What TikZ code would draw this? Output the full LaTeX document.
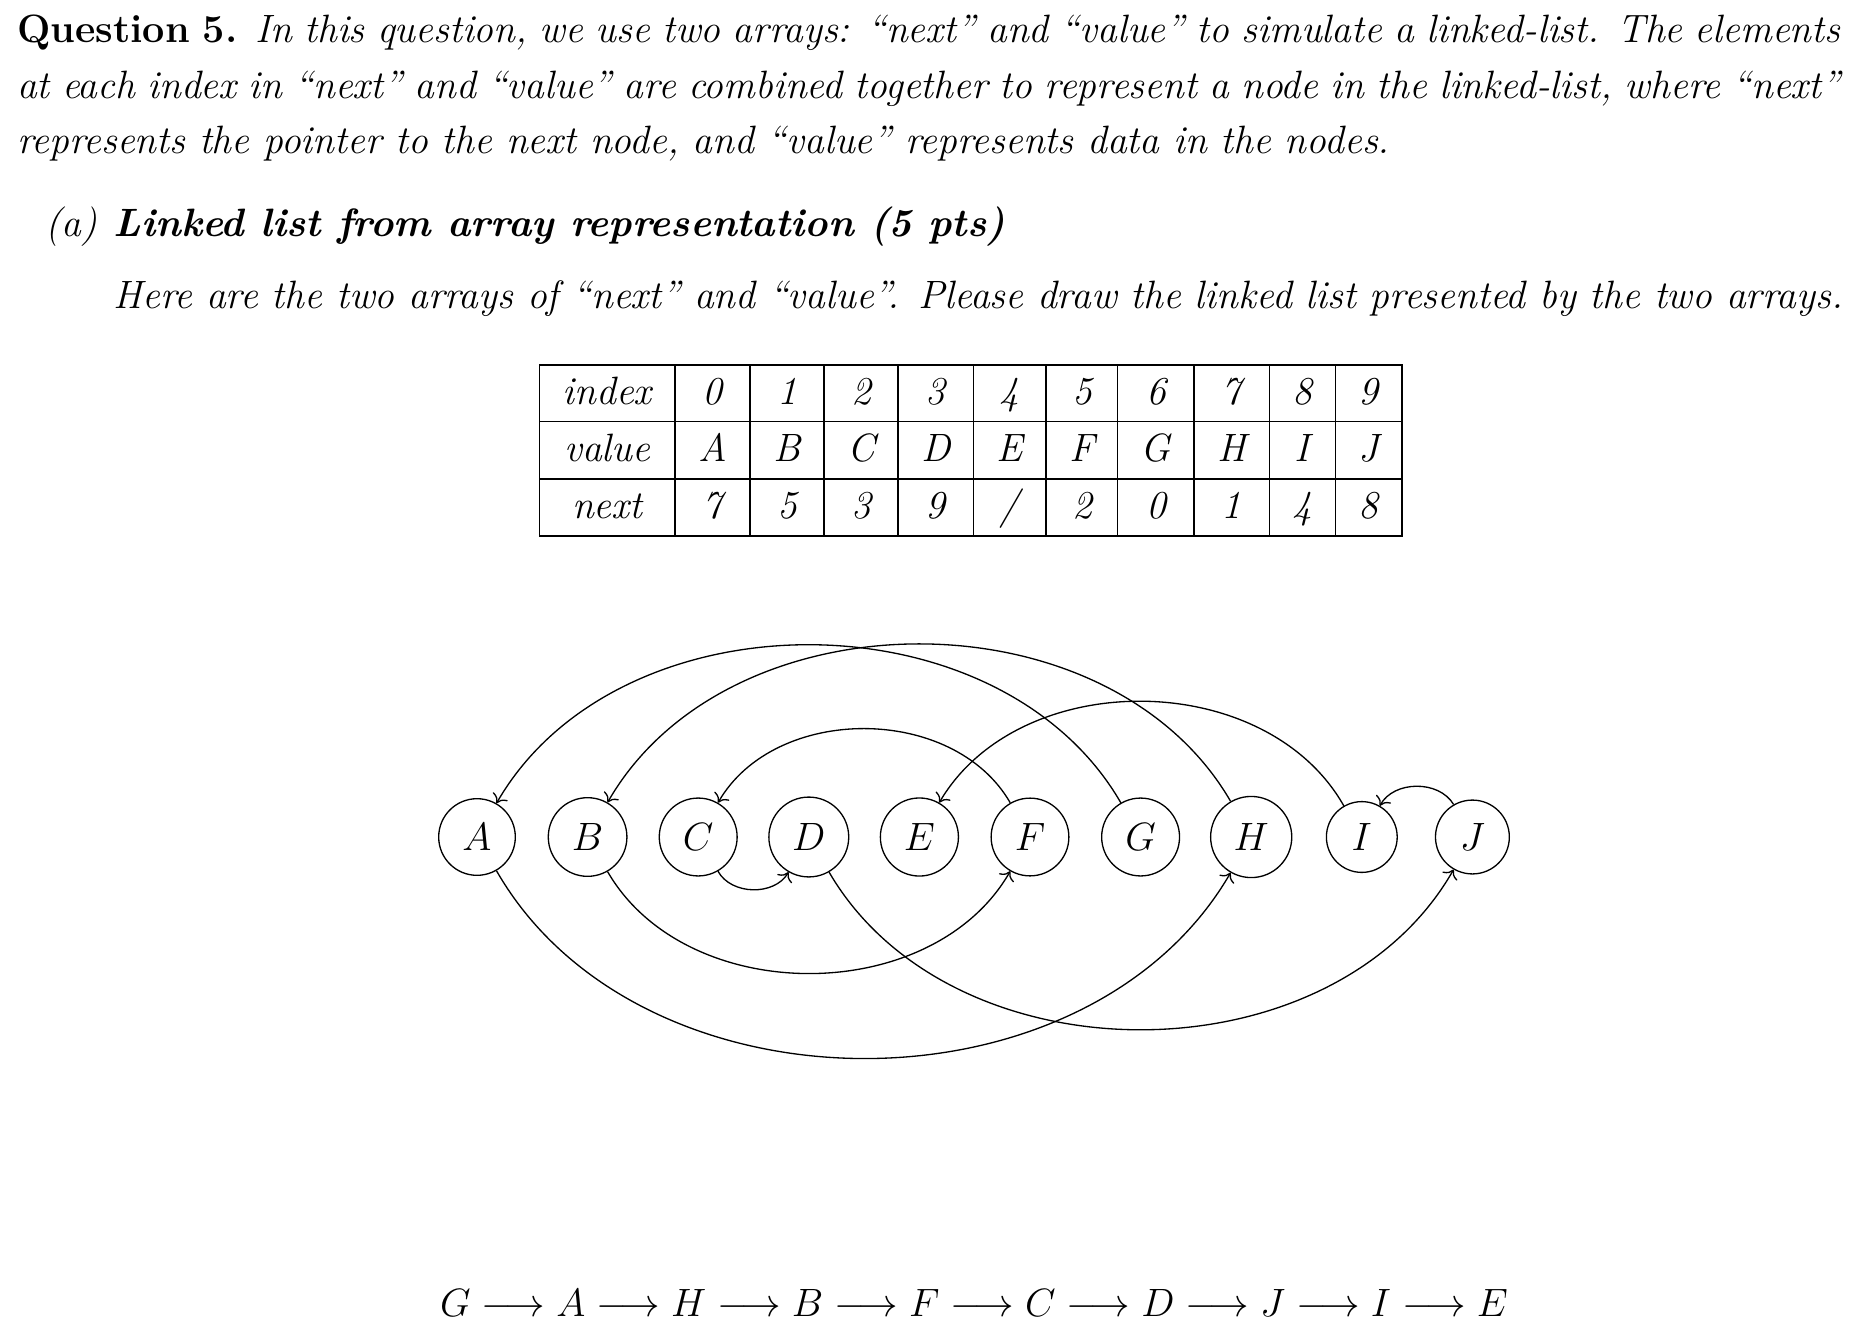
\documentclass[12pt,tikz,border=0pt]{standalone}
\usepackage{amsmath,amssymb}
\usepackage{tikz}
\usetikzlibrary{arrows.meta,positioning,calc}

\begin{document}
\begin{tikzpicture}[
    x=0.3035pt, y=-0.3035pt,
    txt/.style={inner sep=0pt, anchor=base west, font=\itshape},
    cell/.style={inner sep=0pt, anchor=base, font=\itshape},
    item/.style={draw, circle, thin},
    grid/.style={line width=0.4pt},
    arr/.style={->, bend right=60}
]
    \useasboundingbox (0,0) rectangle (1849,1333);

    % question text
    \node[txt] (L1) at (16.5,42.5)  {\makebox[553.3pt][s]{{\upshape\bfseries Question 5.} In this question, we use two arrays: ``next'' and ``value'' to simulate a linked-list. The elements}};
    \node[txt] (L2) at (16.5,98.2)  {\makebox[553.3pt][s]{at each index in ``next'' and ``value'' are combined together to represent a node in the linked-list, where ``next''}};
    \node[txt] (L3) at (16.5,153.9) {represents the pointer to the next node, and ``value'' represents data in the nodes.};
    \node[txt] (La) at (45,236.7)   {(a)};
    \node[txt] (Lh) at (113,236.7)  {\bfseries Linked list from array representation (5 pts)};
    \node[txt] (L4) at (113,308.3)  {Here are the two arrays of ``next'' and ``value''. Please draw the linked list presented by the two arrays.};

    % table
    \draw[grid] (539.3,365) rectangle (1402,536);
    \draw[grid] (539.3,421.7) -- (1402,421.7);
    \draw[grid] (539.3,479) -- (1402,479);
    \draw[grid] (675,365) -- (675,536);
    \draw[grid] (750,365) -- (750,536);
    \draw[grid] (824,365) -- (824,536);
    \draw[grid] (898,365) -- (898,536);
    \draw[grid] (973.3,365) -- (973.3,536);
    \draw[grid] (1046,365) -- (1046,536);
    \draw[grid] (1117.7,365) -- (1117.7,536);
    \draw[grid] (1194,365) -- (1194,536);
    \draw[grid] (1269.3,365) -- (1269.3,536);
    \draw[grid] (1335.3,365) -- (1335.3,536);

    \node[cell] (hidx) at (607.2,404.3) {index};
    \node[cell] (i0) at (712.5,404.3)  {0};
    \node[cell] (i1) at (787,404.3)    {1};
    \node[cell] (i2) at (861,404.3)    {2};
    \node[cell] (i3) at (935.7,404.3)  {3};
    \node[cell] (i4) at (1009.7,404.3) {4};
    \node[cell] (i5) at (1081.9,404.3) {5};
    \node[cell] (i6) at (1155.9,404.3) {6};
    \node[cell] (i7) at (1231.7,404.3) {7};
    \node[cell] (i8) at (1302.3,404.3) {8};
    \node[cell] (i9) at (1368.7,404.3) {9};

    \node[cell] (hval) at (607.2,461.7) {value};
    \node[cell] (v0) at (712.5,461.7)  {A};
    \node[cell] (v1) at (787,461.7)    {B};
    \node[cell] (v2) at (861,461.7)    {C};
    \node[cell] (v3) at (935.7,461.7)  {D};
    \node[cell] (v4) at (1009.7,461.7) {E};
    \node[cell] (v5) at (1081.9,461.7) {F};
    \node[cell] (v6) at (1155.9,461.7) {G};
    \node[cell] (v7) at (1231.7,461.7) {H};
    \node[cell] (v8) at (1302.3,461.7) {I};
    \node[cell] (v9) at (1368.7,461.7) {J};

    \node[cell] (hnxt) at (607.2,518.3) {next};
    \node[cell] (n0) at (712.5,518.3)  {7};
    \node[cell] (n1) at (787,518.3)    {5};
    \node[cell] (n2) at (861,518.3)    {3};
    \node[cell] (n3) at (935.7,518.3)  {9};
    \node[cell] (n4) at (1009.7,518.3) {/};
    \node[cell] (n5) at (1081.9,518.3) {2};
    \node[cell] (n6) at (1155.9,518.3) {0};
    \node[cell] (n7) at (1231.7,518.3) {1};
    \node[cell] (n8) at (1302.3,518.3) {4};
    \node[cell] (n9) at (1368.7,518.3) {8};

    % linked list nodes
    \node[item] (A) at (477,837)    {$A$};
    \node[item] (B) at (587.6,837)  {$B$};
    \node[item] (C) at (698.2,837)  {$C$};
    \node[item] (D) at (808.8,837)  {$D$};
    \node[item] (E) at (919.4,837)  {$E$};
    \node[item] (F) at (1030,837)   {$F$};
    \node[item] (G) at (1140.6,837) {$G$};
    \node[item] (H) at (1251.2,837) {$H$};
    \node[item] (I) at (1361.8,837) {$I$};
    \node[item] (J) at (1472.4,837) {$J$};

    \draw[arr] (A) to (H);
    \draw[arr] (B) to (F);
    \draw[arr] (C) to (D);
    \draw[arr] (D) to (J);
    \draw[arr] (F) to (C);
    \draw[arr] (G) to (A);
    \draw[arr] (H) to (B);
    \draw[arr] (I) to (E);
    \draw[arr] (J) to (I);

    % answer
    \node[cell] (seq) at (974,1316) {$G \longrightarrow A \longrightarrow H \longrightarrow B \longrightarrow F \longrightarrow C \longrightarrow D \longrightarrow J \longrightarrow I \longrightarrow E$};
\end{tikzpicture}
\end{document}
